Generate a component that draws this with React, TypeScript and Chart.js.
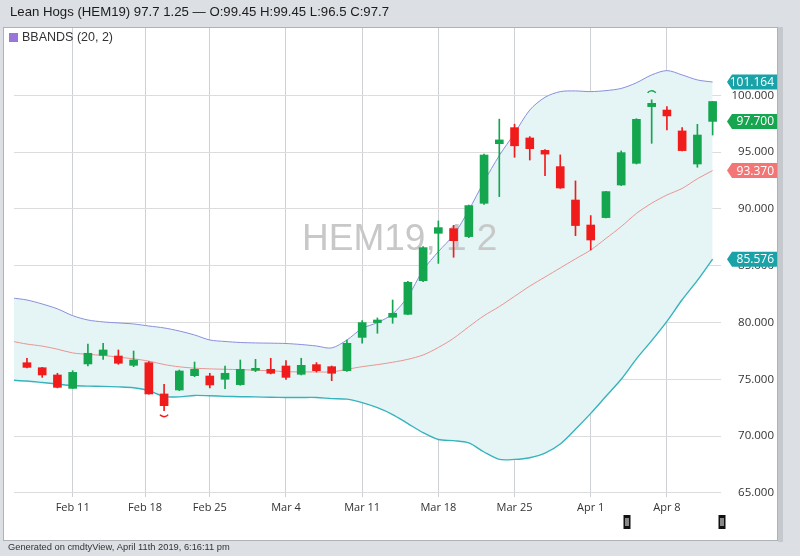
import React, { useEffect, useRef } from 'react';
import { Chart, registerables } from 'chart.js';

Chart.register(...registerables);

// ---- data ----
const tradingDays = [
  'Feb 6', 'Feb 7', 'Feb 8', 'Feb 11', 'Feb 12', 'Feb 13', 'Feb 14', 'Feb 15',
  'Feb 19', 'Feb 20', 'Feb 21', 'Feb 22', 'Feb 25', 'Feb 26', 'Feb 27', 'Feb 28',
  'Mar 1', 'Mar 4', 'Mar 5', 'Mar 6', 'Mar 7', 'Mar 8', 'Mar 11', 'Mar 12',
  'Mar 13', 'Mar 14', 'Mar 15', 'Mar 18', 'Mar 19', 'Mar 20', 'Mar 21', 'Mar 22',
  'Mar 25', 'Mar 26', 'Mar 27', 'Mar 28', 'Mar 29', 'Apr 1', 'Apr 2', 'Apr 3',
  'Apr 4', 'Apr 5', 'Apr 8', 'Apr 9', 'Apr 10', 'Apr 11',
];

const opens = [
  76.46, 76.02, 75.38, 74.2, 76.35, 77.11, 77.05, 76.23, 76.46, 73.71,
  74.06, 75.32, 75.29, 75.0, 74.53, 75.79, 75.88, 76.17, 75.44, 76.29,
  76.11, 75.76, 78.69, 79.99, 80.46, 80.72, 83.68, 87.85, 88.26, 87.56,
  90.49, 95.74, 97.15, 96.24, 95.15, 93.72, 90.78, 88.58, 89.23, 92.1,
  94.01, 99.0, 98.7, 96.86, 93.95, 97.7,
];
const highs = [
  76.85, 76.05, 75.53, 75.76, 78.11, 78.17, 77.58, 77.49, 76.55, 74.56,
  75.82, 76.52, 75.53, 76.17, 76.7, 76.76, 76.85, 76.64, 76.85, 76.47,
  76.17, 78.46, 80.16, 80.4, 81.98, 83.63, 86.68, 88.94, 88.55, 90.34,
  94.83, 97.9, 97.45, 96.36, 95.22, 94.75, 92.46, 89.41, 91.55, 95.1,
  97.94, 99.6, 99.0, 97.15, 97.44, 99.45,
];
const lows = [
  76.0, 75.17, 74.24, 74.2, 76.17, 76.76, 76.32, 76.11, 73.7, 72.24,
  74.0, 75.23, 74.24, 74.18, 74.47, 75.67, 75.47, 75.0, 75.38, 75.64,
  74.88, 75.7, 78.17, 79.05, 79.93, 80.69, 83.6, 85.2, 85.74, 87.47,
  90.4, 91.08, 94.54, 94.3, 92.92, 91.8, 87.64, 86.38, 89.2, 92.05,
  93.95, 95.77, 96.95, 95.1, 93.66, 96.5,
];
const closes = [
  76.05, 75.38, 74.29, 75.61, 77.29, 77.58, 76.41, 76.7, 73.71, 72.68,
  75.73, 75.88, 74.5, 75.53, 75.88, 75.91, 75.53, 75.17, 76.23, 75.76,
  75.53, 78.17, 79.99, 80.22, 80.81, 83.54, 86.59, 88.35, 87.2, 90.29,
  94.74, 96.07, 95.55, 95.3, 94.82, 91.84, 88.53, 87.26, 91.52, 94.95,
  97.88, 99.29, 98.18, 95.13, 96.5, 99.45,
];

// Bollinger bands (20, 2) — first value belongs to the session before the first candle (Feb 5)
const bandDays = ['Feb 5', ...tradingDays];
const upperBand = [
  82.16, 81.98, 81.63, 81.2, 80.6, 80.22, 80.05, 79.96, 79.87, 79.69,
  79.52, 79.25, 78.9, 78.46, 78.33, 78.24, 78.2, 78.18, 78.15, 78.06,
  77.93, 77.76, 78.46, 79.48, 79.99, 80.75, 82.28, 84.62, 86.24, 87.7,
  89.9, 92.4, 94.7, 96.65, 98.7, 99.82, 100.32, 100.38, 100.32, 100.41,
  100.6, 101.1, 101.79, 102.17, 101.79, 101.35, 101.164,
];
const middleBand = [
  78.35, 78.1, 77.92, 77.65, 77.32, 77.2, 77.1, 76.95, 76.8, 76.6,
  76.3, 76.1, 75.98, 75.92, 75.88, 75.85, 75.8, 75.75, 75.67, 75.65,
  75.65, 75.65, 75.88, 76.11, 76.29, 76.5, 76.76, 77.14, 77.8, 78.61,
  79.63, 80.6, 81.4, 82.3, 83.2, 84.0, 84.8, 85.6, 86.38, 87.4,
  88.44, 89.6, 90.5, 91.22, 91.8, 92.65, 93.37,
];
const lowerBand = [
  74.92, 74.85, 74.72, 74.58, 74.45, 74.4, 74.38, 74.33, 74.25, 74.0,
  73.5, 73.45, 73.58, 73.55, 73.5, 73.47, 73.45, 73.42, 73.4, 73.4,
  73.4, 73.3, 73.25, 72.95, 72.5, 71.9, 71.1, 70.3, 69.7, 69.6,
  69.4, 68.6, 67.95, 67.95, 68.1, 68.5, 69.3, 70.6, 72.0, 73.5,
  75.0, 76.8, 78.4, 80.1, 82.0, 83.7, 85.576,
];

const axisDates = ['Feb 11', 'Feb 18', 'Feb 25', 'Mar 4', 'Mar 11', 'Mar 18', 'Mar 25', 'Apr 1', 'Apr 8'];
const priceTicks = [65, 70, 75, 80, 85, 90, 95, 100];
const lastPrice = 97.7;

const headerText = 'Lean Hogs (HEM19) 97.7 1.25 \u2014 O:99.45 H:99.45 L:96.5 C:97.7';
const legendText = 'BBANDS (20, 2)';
const watermarkText = 'HEM19, 1 2';
const footerText = 'Generated on cmdtyView, April 11th 2019, 6:16:11 pm';

// ---- styles ----
const GREEN = '#13a64f';
const RED = '#f01c1c';
const UPPER_COLOR = '#8a8fdc';
const MIDDLE_COLOR = '#e99590';
const LOWER_COLOR = '#36b3bd';
const BAND_FILL = '#e5f5f6';
const TAG_TEAL = '#1aa2a9';
const TAG_GREEN = '#17a650';
const TAG_SALMON = '#f27676';

const MONTHS = ['Jan', 'Feb', 'Mar', 'Apr', 'May', 'Jun', 'Jul', 'Aug', 'Sep', 'Oct', 'Nov', 'Dec'];
const dayKey = (s: string) => {
  const [m, d] = s.split(' ');
  return MONTHS.indexOf(m) * 100 + Number(d);
};
// position of a calendar date on the session axis; a holiday sits just before the next session
const datePosition = (label: string) => {
  const i = tradingDays.indexOf(label);
  if (i >= 0) return i;
  const k = dayKey(label);
  const next = tradingDays.findIndex((d) => dayKey(d) > k);
  return next - 0.25;
};
const axisPositions = axisDates.map(datePosition);

const candleColor = (i: number) => (closes[i] >= opens[i] ? GREEN : RED);

export default function App() {
  const ref = useRef<HTMLCanvasElement>(null);

  useEffect(() => {
    document.body.style.margin = '0';
    const canvas = ref.current;
    if (!canvas) return;

    // bandDays starts one session before the first candle, so band entry i sits at slot i - 1
    const bandPoints = (arr: number[]) => arr.map((v, i) => ({ x: i - (bandDays.length - tradingDays.length), y: v }));
    const bodies = tradingDays.map((_, i) => ({ x: i, y: [opens[i], closes[i]] }));
    const wicks = tradingDays.map((_, i) => ({ x: i, y: [lows[i], highs[i]] }));

    const decor = {
      id: 'decor',
      beforeDraw(chart: any) {
        const { ctx, width, height } = chart;
        ctx.save();
        ctx.fillStyle = '#dcdfe3';
        ctx.fillRect(0, 0, width, height);
        ctx.fillStyle = '#c5c9cd';
        ctx.fillRect(778, 27, 5, 515);
        ctx.fillStyle = '#ffffff';
        ctx.fillRect(3, 27, 775, 514);
        ctx.strokeStyle = '#aeb2b6';
        ctx.lineWidth = 1;
        ctx.strokeRect(3.5, 27.5, 774, 513);
        ctx.fillStyle = '#1c1c1c';
        ctx.font = '13.2px "Liberation Sans", Arial, sans-serif';
        ctx.textBaseline = 'middle';
        ctx.textAlign = 'left';
        ctx.fillText(headerText, 10, 12.5);
        ctx.fillStyle = '#333';
        ctx.font = '9.3px "Liberation Sans", Arial, sans-serif';
        ctx.fillText(footerText, 8, 547);
        ctx.restore();
      },
      beforeDatasetsDraw(chart: any) {
        const { ctx } = chart;
        ctx.save();
        ctx.fillStyle = '#c8c8c8';
        ctx.font = '37px "Liberation Sans", Arial, sans-serif';
        ctx.textAlign = 'left';
        ctx.textBaseline = 'alphabetic';
        ctx.fillText(watermarkText, 302, 250);
        ctx.restore();
      },
      afterDatasetsDraw(chart: any) {
        const { ctx, scales } = chart;
        const xs = scales.x;
        const ys = scales.y;
        let hi = 0;
        let lo = 0;
        highs.forEach((v, i) => { if (v > highs[hi]) hi = i; });
        lows.forEach((v, i) => { if (v < lows[lo]) lo = i; });
        ctx.save();
        ctx.lineWidth = 1.5;
        ctx.strokeStyle = candleColor(lo);
        ctx.beginPath();
        ctx.arc(xs.getPixelForValue(lo), ys.getPixelForValue(lows[lo]) + 1, 5, 0.2 * Math.PI, 0.8 * Math.PI);
        ctx.stroke();
        ctx.strokeStyle = candleColor(hi);
        ctx.beginPath();
        ctx.arc(xs.getPixelForValue(hi), ys.getPixelForValue(highs[hi]) - 4, 5, 1.2 * Math.PI, 1.8 * Math.PI);
        ctx.stroke();
        ctx.restore();
      },
      afterDraw(chart: any) {
        const { ctx, scales, chartArea } = chart;
        const ys = scales.y;
        ctx.save();
        // legend
        ctx.fillStyle = '#9a76d8';
        ctx.fillRect(9, 33, 9, 9);
        ctx.fillStyle = '#333';
        ctx.font = '12.5px "Liberation Sans", Arial, sans-serif';
        ctx.textBaseline = 'middle';
        ctx.textAlign = 'left';
        ctx.fillText(legendText, 22, 38);
        // price tags
        const tags = [
          { v: upperBand[upperBand.length - 1], c: TAG_TEAL },
          { v: lastPrice, c: TAG_GREEN },
          { v: middleBand[middleBand.length - 1], c: TAG_SALMON },
          { v: lowerBand[lowerBand.length - 1], c: TAG_TEAL },
        ];
        const tip = chartArea.right + 6;
        ctx.font = '12px "Open Sans", sans-serif';
        ctx.textAlign = 'right';
        tags.forEach((t) => {
          const y = ys.getPixelForValue(t.v);
          ctx.fillStyle = t.c;
          ctx.beginPath();
          ctx.moveTo(tip, y);
          ctx.lineTo(tip + 5, y - 7.5);
          ctx.lineTo(777, y - 7.5);
          ctx.lineTo(777, y + 7.5);
          ctx.lineTo(tip + 5, y + 7.5);
          ctx.closePath();
          ctx.fill();
          ctx.fillStyle = '#ffffff';
          ctx.fillText(t.v.toFixed(3), 774, y + 0.5);
        });
        // scroll handles
        [627, 722].forEach((hx) => {
          ctx.fillStyle = '#111';
          ctx.fillRect(hx - 3.5, 515, 7, 14);
          ctx.fillStyle = '#fff';
          ctx.fillRect(hx - 1.5, 518, 1, 8);
          ctx.fillRect(hx + 0.5, 518, 1, 8);
        });
        ctx.restore();
      },
    };

    const chart = new Chart(canvas, {
      type: 'line',
      data: {
        datasets: [
          {
            type: 'line',
            data: bandPoints(upperBand),
            borderColor: UPPER_COLOR,
            borderWidth: 1,
            pointRadius: 0,
            tension: 0.3,
            fill: { target: '+2' },
            backgroundColor: BAND_FILL,
            order: 3,
          },
          {
            type: 'line',
            data: bandPoints(middleBand),
            borderColor: MIDDLE_COLOR,
            borderWidth: 1,
            pointRadius: 0,
            tension: 0.3,
            fill: false,
            order: 3,
          },
          {
            type: 'line',
            data: bandPoints(lowerBand),
            borderColor: LOWER_COLOR,
            borderWidth: 1.4,
            pointRadius: 0,
            tension: 0.3,
            fill: false,
            order: 3,
          },
          {
            type: 'bar',
            data: wicks as any,
            backgroundColor: tradingDays.map((_, i) => candleColor(i)),
            barThickness: 1,
            grouped: false,
            order: 2,
          },
          {
            type: 'bar',
            data: bodies as any,
            backgroundColor: tradingDays.map((_, i) => candleColor(i)),
            barThickness: 8,
            minBarLength: 2,
            grouped: false,
            order: 1,
          },
        ] as any,
      },
      options: {
        responsive: false,
        animation: false,
        layout: { padding: { left: 14, right: 26, top: 28, bottom: 0 } },
        plugins: {
          legend: { display: false },
          tooltip: { enabled: false },
          filler: { drawTime: 'beforeDatasetsDraw' },
        } as any,
        scales: {
          x: {
            type: 'linear',
            min: -0.85,
            max: 45.55,
            offset: false,
            grid: { color: '#cdd1d5', drawTicks: false, offset: false },
            border: { display: false },
            afterBuildTicks: (scale: any) => {
              scale.ticks = axisPositions.map((v) => ({ value: v }));
            },
            afterFit: (scale: any) => {
              scale.height = 59;
            },
            ticks: {
              autoSkip: false,
              maxRotation: 0,
              padding: 4,
              color: '#333',
              font: { family: '"Open Sans", sans-serif', size: 11 },
              callback: (_v: any, i: number) => axisDates[i],
            },
          },
          y: {
            type: 'linear',
            position: 'right',
            min: 64.64,
            max: 105.92,
            grid: { color: '#dcdcdc', drawTicks: false },
            border: { display: false },
            afterBuildTicks: (scale: any) => {
              scale.ticks = priceTicks.map((v) => ({ value: v }));
            },
            afterFit: (scale: any) => {
              scale.width = 53;
            },
            ticks: {
              crossAlign: 'far',
              padding: 5,
              color: '#333',
              font: { family: '"Open Sans", sans-serif', size: 11.5 },
              callback: (v: any) => Number(v).toFixed(3),
            },
          },
        } as any,
      },
      plugins: [decor],
    } as any);

    return () => chart.destroy();
  }, []);

  return (
    <div style={{ width: 800, height: 556 }}>
      <canvas ref={ref} width={800} height={556} style={{ display: 'block' }} />
    </div>
  );
}
